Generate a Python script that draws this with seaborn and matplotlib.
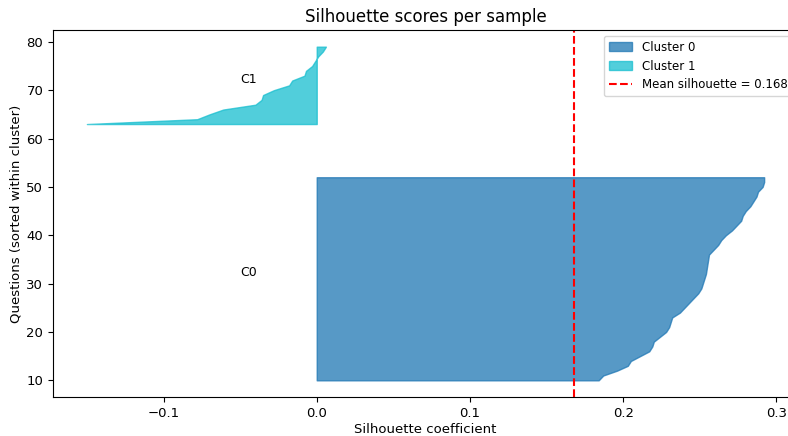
import numpy as np
import matplotlib
matplotlib.use("Agg")
import matplotlib.pyplot as plt
import matplotlib.patches as mpatches
from matplotlib.lines import Line2D
import seaborn as sns

# silhouette values, already sorted within each cluster
cluster_names = ["Cluster 0", "Cluster 1"]
cluster_labels = ["C0", "C1"]
sil_c0 = [0.184, 0.187, 0.196, 0.203, 0.205, 0.211, 0.217, 0.219, 0.220, 0.224,
          0.228, 0.230, 0.231, 0.232, 0.237, 0.240, 0.243, 0.246, 0.249, 0.251,
          0.252, 0.253, 0.254, 0.2545, 0.255, 0.2555, 0.256, 0.259, 0.262, 0.264,
          0.267, 0.271, 0.274, 0.277, 0.278, 0.280, 0.283, 0.285, 0.287, 0.288,
          0.291, 0.292, 0.292]
sil_c1 = [-0.150, -0.078, -0.070, -0.061, -0.040, -0.036, -0.035, -0.028, -0.018,
          -0.016, -0.008, -0.007, -0.003, -0.001, 0.001, 0.004, 0.006]
mean_score = 0.168

pal = sns.color_palette("tab10")
colors = [pal[0], pal[9]]

fig = plt.figure(figsize=(7.88, 4.36), dpi=100)
ax = fig.add_axes([0.0673, 0.0894, 0.9454, 0.8418])

y_lower = 10
handles = []
for i, vals in enumerate([sil_c0, sil_c1]):
    size = len(vals)
    y_upper = y_lower + size
    ys = np.arange(y_lower, y_upper)
    ax.fill_betweenx(ys, 0, vals, facecolor=colors[i], edgecolor=colors[i], alpha=0.75)
    ax.text(-0.05, y_lower + 0.5 * size, cluster_labels[i], fontsize=9)
    handles.append(mpatches.Patch(facecolor=colors[i], edgecolor=colors[i], alpha=0.75,
                                  label=cluster_names[i]))
    y_lower = y_upper + 10

ax.axvline(mean_score, color="red", linestyle="--")
handles.append(Line2D([0], [0], color="red", linestyle="--",
                      label=f"Mean silhouette = {mean_score:.3f}"))

ax.tick_params(labelsize=9.5)
ax.set_title("Silhouette scores per sample", fontsize=12)
ax.set_xlabel("Silhouette coefficient", fontsize=9.5, labelpad=2)
ax.set_ylabel("Questions (sorted within cluster)", fontsize=9.5, labelpad=3)
ax.legend(handles=handles, loc="upper right", fontsize=8.5)

fig.savefig("out.png", dpi=100)
